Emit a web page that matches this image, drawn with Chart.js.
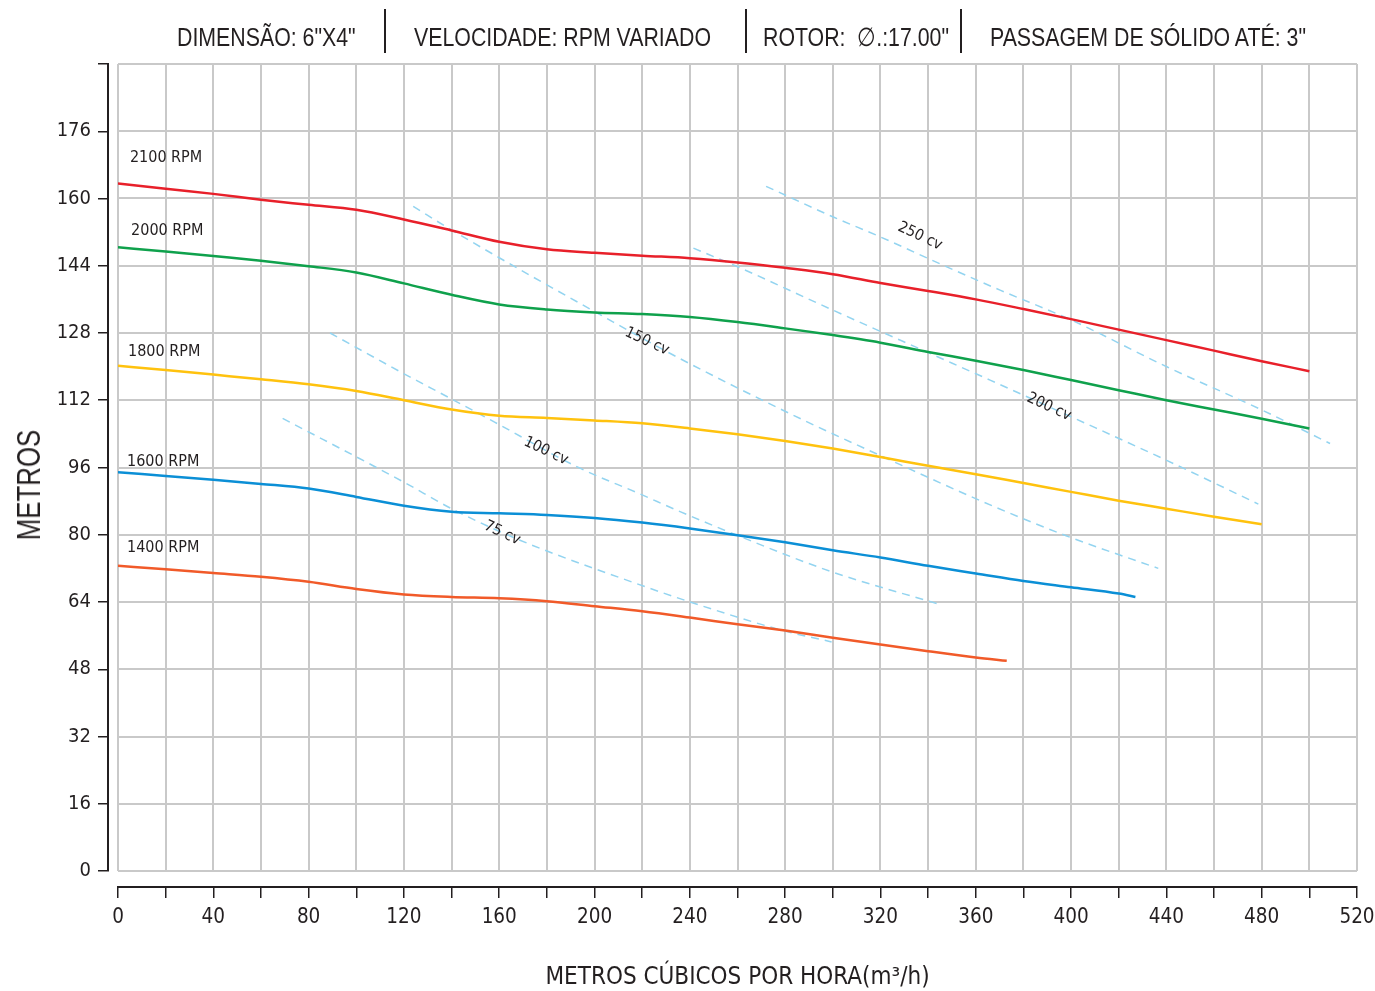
<!DOCTYPE html>
<html>
<head>
<meta charset="utf-8">
<script src="https://cdn.jsdelivr.net/npm/chart.js@4.4.1/dist/chart.umd.min.js"></script>
<style>
  body { margin: 0; background: #fff; }
  #wrap { position: relative; width: 1375px; height: 991px; }
  .hdr { position: absolute; top: 24px; font: 26px/1 'Liberation Sans', Arial, sans-serif; color: #231f20;
         white-space: pre; transform: scaleX(0.82); transform-origin: 0 50%; }
  .sep { position: absolute; top: 9px; width: 2px; height: 44px; background: #231f20; }
  #ytitle { position: absolute; left: 28px; top: 485px; transform: translate(-50%, -50%) rotate(-90deg) scaleX(0.76);
            font: 34px/1 'Liberation Sans', Arial, sans-serif; color: #231f20; white-space: pre; }
</style>
</head>
<body>
<div id="wrap">
  <canvas id="chart" width="1375" height="991"></canvas>
  <div class="hdr" style="left:177px">DIMENSÃO: 6"X4"</div>
  <div class="sep" style="left:384px"></div>
  <div class="hdr" style="left:414px">VELOCIDADE: RPM VARIADO</div>
  <div class="sep" style="left:745px"></div>
  <div class="hdr" style="left:763px">ROTOR:  ∅.:17.00"</div>
  <div class="sep" style="left:960px"></div>
  <div class="hdr" style="left:990px">PASSAGEM DE SÓLIDO ATÉ: 3"</div>
  <div id="ytitle">METROS</div>
</div>
<script>
// Pump curves: head (m) vs flow (m3/h) at several speeds, with power lines
const FONT = "'DejaVu Sans Condensed', 'Liberation Sans', sans-serif";
const INK = '#231f20';

// speed curves
const flow2100 = [0, 20, 40, 60, 80, 100, 120, 140, 160, 180, 200, 220, 240, 260, 280, 300, 320, 340, 360, 380, 400, 420, 440, 460, 480, 500];
const head2100 = [163.6, 162.3, 161.1, 159.7, 158.5, 157.3, 155.0, 152.4, 149.7, 147.9, 147.1, 146.4, 145.8, 144.8, 143.5, 142.0, 139.9, 138.0, 136.0, 133.7, 131.3, 128.8, 126.3, 123.8, 121.3, 118.9];

const flow2000 = [0, 20, 40, 60, 80, 100, 120, 140, 160, 180, 200, 220, 240, 260, 280, 300, 320, 340, 360, 380, 400, 420, 440, 460, 480, 500];
const head2000 = [148.4, 147.4, 146.3, 145.2, 143.9, 142.4, 139.8, 137.1, 134.8, 133.6, 132.9, 132.5, 131.8, 130.6, 129.1, 127.5, 125.7, 123.5, 121.4, 119.2, 116.8, 114.4, 112.0, 109.8, 107.6, 105.3];

const flow1800 = [0, 20, 40, 60, 80, 100, 120, 140, 160, 180, 200, 220, 240, 260, 280, 300, 320, 340, 360, 380, 400, 420, 440, 460, 480];
const head1800 = [120.2, 119.2, 118.1, 117.0, 115.8, 114.2, 112.0, 109.8, 108.3, 107.8, 107.2, 106.5, 105.3, 103.9, 102.3, 100.5, 98.5, 96.4, 94.4, 92.3, 90.2, 88.1, 86.2, 84.3, 82.5];

const flow1600 = [0, 20, 40, 60, 80, 100, 120, 140, 160, 180, 200, 220, 240, 260, 280, 300, 320, 340, 360, 380, 400, 420, 427];
const head1600 = [94.9, 94.0, 93.1, 92.1, 91.0, 89.0, 86.9, 85.5, 85.1, 84.7, 84.0, 82.9, 81.5, 79.9, 78.2, 76.3, 74.6, 72.6, 70.8, 69.0, 67.5, 66.0, 65.2];

const flow1400 = [0, 20, 40, 60, 80, 100, 120, 140, 160, 180, 200, 220, 240, 260, 280, 300, 320, 340, 360, 373];
const head1400 = [72.6, 71.8, 70.9, 70.0, 68.8, 67.1, 65.8, 65.2, 64.9, 64.2, 63.0, 61.8, 60.3, 58.7, 57.2, 55.5, 53.9, 52.3, 50.8, 50.0];

// power lines (cv)
const flow75 = [69.1, 119.7, 140.7, 168.7, 213.5, 240.1, 279.2, 299.5];
const head75 = [107.7, 92.6, 86.0, 78.7, 69.2, 64.0, 57.2, 54.5];
const flow100 = [89.0, 119.7, 140.0, 160.3, 192.5, 219.1, 235.9, 259.7, 299.5, 345.7];
const head100 = [128.0, 118.4, 112.3, 106.1, 96.2, 89.7, 85.5, 79.9, 71.2, 63.3];
const flow150 = [123.9, 140.3, 207.9, 235.9, 287.6, 320.5, 363.2, 398.2, 436.6];
const head150 = [158.1, 152.4, 130.6, 121.9, 107.3, 98.7, 87.8, 79.7, 72.0];
const flow200 = [241.5, 260.3, 300.2, 339.4, 366.0, 399.5, 440.1, 478.6];
const head200 = [148.2, 143.7, 133.4, 123.5, 116.8, 108.2, 97.7, 87.3];
const flow250 = [272.0, 300.2, 319.8, 346.4, 370.2, 400.4, 440.4, 480.4, 508.7];
const head250 = [162.9, 155.6, 150.9, 144.1, 138.2, 131.0, 119.9, 109.6, 101.7];

// labels
const rpmNames = ['2100 RPM', '2000 RPM', '1800 RPM', '1600 RPM', '1400 RPM'];
const rpmLabelFlow = [5.0, 5.5, 4.2, 3.8, 3.8];
const rpmLabelHead = [169.6, 152.2, 123.4, 97.3, 76.8];
const cvNames = ['250 cv', '200 cv', '150 cv', '100 cv', '75 cv'];
const cvLabelFlow = [336.6, 390.7, 222.0, 179.6, 161.2];
const cvLabelHead = [151.0, 110.4, 126.0, 99.9, 80.4];

const pts = (xs, ys) => xs.map((x, i) => ({ x: x, y: ys[i] }));

function speedLine(xs, ys, color) {
	return { data: pts(xs, ys), borderColor: color, borderWidth: 2.5, pointRadius: 0, fill: false,
		tension: 0.4, cubicInterpolationMode: 'monotone' };
}
function powerLine(xs, ys) {
	return { data: pts(xs, ys), borderColor: '#93d4f0', borderWidth: 1.5, borderDash: [8, 6], pointRadius: 0,
		fill: false, tension: 0.4, cubicInterpolationMode: 'monotone' };
}

const labelPlugin = {
	id: 'curveLabels',
	afterDatasetsDraw(chart) {
		const ctx = chart.ctx;
		const sx = chart.scales.x, sy = chart.scales.y;
		ctx.save();
		ctx.fillStyle = INK;
		ctx.font = '16px ' + FONT;
		ctx.textAlign = 'left';
		ctx.textBaseline = 'middle';
		rpmNames.forEach((t, i) => {
			ctx.fillText(t, sx.getPixelForValue(rpmLabelFlow[i]), sy.getPixelForValue(rpmLabelHead[i]));
		});
		ctx.font = '15.5px ' + FONT;
		ctx.textAlign = 'center';
		cvNames.forEach((t, i) => {
			ctx.save();
			ctx.translate(sx.getPixelForValue(cvLabelFlow[i]), sy.getPixelForValue(cvLabelHead[i]));
			ctx.rotate(25 * Math.PI / 180);
			ctx.fillText(t, 0, 0);
			ctx.restore();
		});
		ctx.restore();
	}
};

const GRID = '#c9c9c9';

new Chart(document.getElementById('chart'), {
	type: 'line',
	data: {
		datasets: [
			speedLine(flow2100, head2100, '#e8202a'),
			speedLine(flow2000, head2000, '#0fa14c'),
			speedLine(flow1800, head1800, '#ffc20e'),
			speedLine(flow1600, head1600, '#0b8fd6'),
			speedLine(flow1400, head1400, '#f15a29'),
			powerLine(flow75, head75),
			powerLine(flow100, head100),
			powerLine(flow150, head150),
			powerLine(flow200, head200),
			powerLine(flow250, head250)
		]
	},
	options: {
		responsive: false,
		animation: false,
		devicePixelRatio: 1,
		layout: { padding: { top: 64, right: 18, left: 0, bottom: 0 } },
		plugins: { legend: { display: false }, tooltip: { enabled: false } },
		scales: {
			x: {
				type: 'linear', position: 'bottom', min: 0, max: 520, weight: 0,
				ticks: { stepSize: 20, display: false },
				grid: { color: GRID, lineWidth: 2, tickLength: 16, tickColor: 'rgba(0,0,0,0)' },
				border: { display: false },
				afterFit: s => { s.height = 16; s.paddingLeft = 0; s.paddingRight = 0; }
			},
			xAxis: {
				type: 'linear', position: 'bottom', min: 0, max: 520, weight: 1,
				ticks: { stepSize: 20, autoSkip: false, maxRotation: 0, padding: 7, color: INK,
					font: { family: FONT, size: 20.5 }, callback: v => (v % 40 === 0 ? v : '') },
				grid: { drawOnChartArea: false, tickLength: 11, color: INK, lineWidth: 1.5 },
				border: { display: true, color: INK, width: 2 },
				title: { display: true, text: 'METROS CÚBICOS POR HORA(m³/h)', color: INK,
					font: { family: FONT, size: 24, lineHeight: 1 }, padding: { top: 0, bottom: 1 } },
				afterFit: s => { s.height = 104; s.paddingLeft = 0; s.paddingRight = 0; }
			},
			y: {
				type: 'linear', position: 'left', min: 0, max: 192, weight: 0,
				ticks: { stepSize: 16, display: false },
				grid: { color: GRID, lineWidth: 2, tickLength: 10, tickColor: 'rgba(0,0,0,0)' },
				border: { display: false },
				afterFit: s => { s.width = 10; }
			},
			yAxis: {
				type: 'linear', position: 'left', min: 0, max: 192, weight: 1,
				ticks: { stepSize: 16, padding: 7, color: INK, font: { family: FONT, size: 20 },
					callback: v => (v === 192 ? '' : v) },
				grid: { drawOnChartArea: false, tickLength: 10, color: INK, lineWidth: 1.5 },
				border: { display: true, color: INK, width: 2 },
				afterFit: s => { s.width = 108; }
			}
		}
	},
	plugins: [labelPlugin]
});
</script>
</body>
</html>
